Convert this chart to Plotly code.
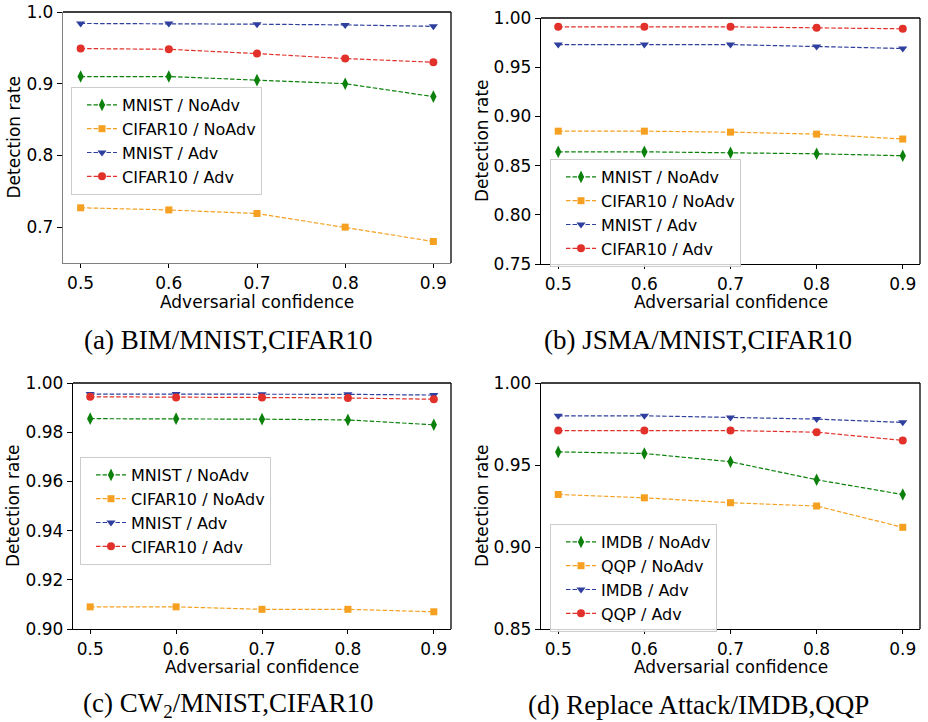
import plotly.graph_objects as go

W, H = 928, 722

x_conf = [0.5, 0.6, 0.7, 0.8, 0.9]

# (a) BIM / MNIST, CIFAR10
a_mnist_noadv = [0.910, 0.910, 0.905, 0.900, 0.882]
a_cifar_noadv = [0.727, 0.724, 0.719, 0.700, 0.680]
a_mnist_adv = [0.984, 0.984, 0.983, 0.982, 0.980]
a_cifar_adv = [0.949, 0.948, 0.942, 0.935, 0.930]

# (b) JSMA / MNIST, CIFAR10
b_mnist_noadv = [0.864, 0.864, 0.863, 0.862, 0.860]
b_cifar_noadv = [0.885, 0.885, 0.884, 0.882, 0.877]
b_mnist_adv = [0.973, 0.973, 0.973, 0.971, 0.969]
b_cifar_adv = [0.991, 0.991, 0.991, 0.990, 0.989]

# (c) CW2 / MNIST, CIFAR10
c_mnist_noadv = [0.9855, 0.9855, 0.9853, 0.9850, 0.9830]
c_cifar_noadv = [0.909, 0.909, 0.908, 0.908, 0.907]
c_mnist_adv = [0.9955, 0.9955, 0.9954, 0.9954, 0.9951]
c_cifar_adv = [0.9944, 0.9941, 0.9941, 0.9939, 0.9934]

# (d) Replace Attack / IMDB, QQP
d_imdb_noadv = [0.958, 0.957, 0.952, 0.941, 0.932]
d_qqp_noadv = [0.932, 0.930, 0.927, 0.925, 0.912]
d_imdb_adv = [0.980, 0.980, 0.979, 0.978, 0.976]
d_qqp_adv = [0.971, 0.971, 0.971, 0.970, 0.965]

names_img = ["MNIST / NoAdv", "CIFAR10 / NoAdv", "MNIST / Adv", "CIFAR10 / Adv"]
names_txt = ["IMDB / NoAdv", "QQP / NoAdv", "IMDB / Adv", "QQP / Adv"]

captions = ["(a) BIM/MNIST,CIFAR10", "(b) JSMA/MNIST,CIFAR10",
            "(c) CW<sub>2</sub>/MNIST,CIFAR10", "(d) Replace Attack/IMDB,QQP"]

y_ticks_a = [0.7, 0.8, 0.9, 1.0]
y_ticks_b = [0.75, 0.80, 0.85, 0.90, 0.95, 1.00]
y_ticks_c = [0.90, 0.92, 0.94, 0.96, 0.98, 1.00]
y_ticks_d = [0.85, 0.90, 0.95, 1.00]

colors = ["#0b800b", "#f5a020", "#2e3f9e", "#e2312a"]
symbols = ["diamond-tall", "square", "triangle-down", "circle"]
msizes = [9, 7, 8, 8]


def px_x(p):
    return p / W


def px_y(p):
    return 1 - p / H


panels = [
    dict(series=[a_mnist_noadv, a_cifar_noadv, a_mnist_adv, a_cifar_adv], names=names_img,
         box=(63, 451, 12, 263), yr=[0.65, 1.0], ticks=y_ticks_a, fmt=".1f",
         leg=(71, 87), spine="#808080", ytitle=(13, 137.5), xtitle=(257, 302), cap=(228, 340)),
    dict(series=[b_mnist_noadv, b_cifar_noadv, b_mnist_adv, b_cifar_adv], names=names_img,
         box=(541, 920, 18, 264), yr=[0.75, 1.0], ticks=y_ticks_b, fmt=".2f",
         leg=(550, 159), spine="#000000", ytitle=(482, 141), xtitle=(731, 302), cap=(698, 340)),
    dict(series=[c_mnist_noadv, c_cifar_noadv, c_mnist_adv, c_cifar_adv], names=names_img,
         box=(73, 451, 383, 629), yr=[0.90, 1.0], ticks=y_ticks_c, fmt=".2f",
         leg=(80, 457), spine="#000000", ytitle=(13, 506), xtitle=(262, 667), cap=(228, 705)),
    dict(series=[d_imdb_noadv, d_qqp_noadv, d_imdb_adv, d_qqp_adv], names=names_txt,
         box=(541, 920, 383, 629), yr=[0.85, 1.0], ticks=y_ticks_d, fmt=".2f",
         leg=(550, 524), spine="#000000", ytitle=(482, 506), xtitle=(731, 667), cap=(698, 705)),
]

fig = go.Figure()
annotations = []
shapes = []
layout = dict(width=W, height=H, margin=dict(l=0, r=0, t=0, b=0, autoexpand=False),
              plot_bgcolor="white", paper_bgcolor="white", showlegend=True,
              font=dict(family="DejaVu Sans", color="black", size=16))

for i, p in enumerate(panels):
    k = "" if i == 0 else str(i + 1)
    xa, ya = "x" + k, "y" + k
    lg = "legend" + k
    l, r, t, b = p["box"]
    for j, (vals, nm) in enumerate(zip(p["series"], p["names"])):
        fig.add_trace(go.Scatter(
            x=x_conf, y=vals, name=nm, mode="lines+markers",
            xaxis=xa, yaxis=ya, legend=lg,
            line=dict(color=colors[j], width=1.2, dash="4.5px,2px"),
            marker=dict(symbol=symbols[j], size=msizes[j], color=colors[j],
                        line=dict(width=0)),
        ))
    layout["xaxis" + k] = dict(
        domain=[px_x(l), px_x(r)], range=[0.48, 0.92], anchor=ya, automargin=False,
        tickvals=x_conf, ticktext=[f"{v:.1f}" for v in x_conf],
        ticks="outside", ticklen=4, tickcolor="black", tickwidth=1,
        ticklabeloverflow="allow",
        showline=True, linecolor=p["spine"], linewidth=1.3, mirror=False,
        showgrid=False, zeroline=False, tickfont=dict(size=17))
    layout["yaxis" + k] = dict(
        domain=[px_y(b), px_y(t)], range=p["yr"], anchor=xa, automargin=False,
        tickvals=p["ticks"], ticktext=[format(v, p["fmt"]) for v in p["ticks"]],
        ticks="outside", ticklen=5, tickcolor="black", tickwidth=1,
        ticklabeloverflow="allow",
        showline=True, linecolor=p["spine"], linewidth=1.3, mirror=False,
        showgrid=False, zeroline=False, tickfont=dict(size=17))
    # top and right spines
    shapes.append(dict(type="line", xref=xa + " domain", yref=ya + " domain",
                       x0=0, x1=1, y0=1, y1=1, line=dict(color="black", width=1.3)))
    shapes.append(dict(type="line", xref=xa + " domain", yref=ya + " domain",
                       x0=1, x1=1, y0=0, y1=1, line=dict(color="black", width=1.3)))
    layout[lg] = dict(
        x=px_x(p["leg"][0]), y=px_y(p["leg"][1]), xanchor="left", yanchor="top",
        bgcolor="rgba(255,255,255,0.8)", bordercolor="#cccccc", borderwidth=1,
        font=dict(size=16, family="DejaVu Sans"), tracegroupgap=0, indentation=10)
    annotations.append(dict(text="Detection rate", x=px_x(p["ytitle"][0]), y=px_y(p["ytitle"][1]),
                            xref="paper", yref="paper", showarrow=False, textangle=-90,
                            xanchor="center", yanchor="middle", font=dict(size=17), borderpad=0))
    annotations.append(dict(text="Adversarial confidence", x=px_x(p["xtitle"][0]), y=px_y(p["xtitle"][1]),
                            xref="paper", yref="paper", showarrow=False,
                            xanchor="center", yanchor="middle", font=dict(size=17), borderpad=0))
    annotations.append(dict(text=captions[i], x=px_x(p["cap"][0]), y=px_y(p["cap"][1]),
                            xref="paper", yref="paper", showarrow=False,
                            xanchor="center", yanchor="middle",
                            font=dict(size=27, family="Liberation Serif")))

layout["annotations"] = annotations
layout["shapes"] = shapes
fig.update_layout(**layout)
fig.write_html("out.html", config={"displayModeBar": False},
               post_script="document.body.style.margin='0px';document.body.style.overflow='hidden';")
